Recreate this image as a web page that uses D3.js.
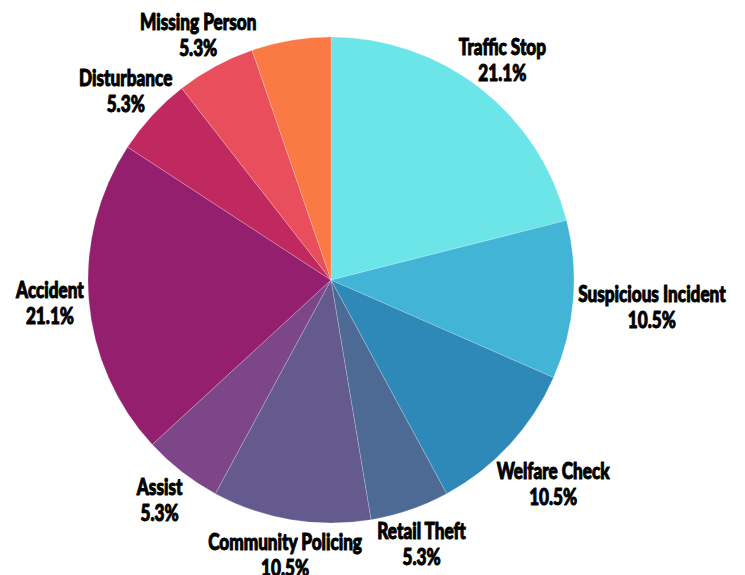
<!DOCTYPE html>
<html>
<head>
<meta charset="utf-8">
<script src="https://cdn.jsdelivr.net/npm/d3@7"></script>
<style>
  html, body { margin: 0; padding: 0; background: #ffffff; }
  svg { display: block; }
  .lbl { font-family: Lato, "Open Sans", "DejaVu Sans Condensed", sans-serif; font-weight: 900;
         fill: #000; stroke: #000; stroke-width: 1px; stroke-linejoin: round; }
</style>
</head>
<body>
<svg id="chart" width="745" height="575"></svg>
<script>
// Incident types and their counts (clockwise from 12 o'clock)
const categories = ["Traffic Stop", "Suspicious Incident", "Welfare Check", "Retail Theft",
  "Community Policing", "Assist", "Accident", "Disturbance", "Missing Person", "Other"];
const counts = [4, 2, 2, 1, 2, 1, 4, 1, 1, 1];
const colors = ["#6be5e8", "#42b5d6", "#2e88b8", "#4c6a93", "#645a8e", "#7d4689",
  "#931f6e", "#bf2960", "#e84e5b", "#fb7945"];
// Slices whose label is drawn
const showLabel = [true, true, true, true, true, true, true, true, true, false];

const cx = 331, cy = 280, R = 243;
const fontSize = 22, lineGap = 26, squeeze = 0.78;

const svg = d3.select("#chart");
const g = svg.append("g").attr("transform", `translate(${cx},${cy})`);

const data = categories.map((c, i) => ({ name: c, value: counts[i], color: colors[i], show: showLabel[i] }));
const total = d3.sum(counts);

const pie = d3.pie().value(d => d.value).sort(null);
const arc = d3.arc().innerRadius(0).outerRadius(R);
const arcs = pie(data);

g.selectAll("path.slice")
  .data(arcs)
  .join("path")
  .attr("class", "slice")
  .attr("d", arc)
  .attr("fill", d => d.data.color)
  .attr("stroke", "rgba(255,255,255,0.35)")
  .attr("stroke-width", 0.6);

const pct = d3.format(".1f");

// Two-line labels in a narrow heavy face, pushed outward along the
// slice bisector until they are clear of the pie
const labels = g.selectAll("g.label")
  .data(arcs.filter(d => d.data.show))
  .join("g")
  .attr("class", "label");

labels.each(function (d) {
  const outer = d3.select(this);
  const inner = outer.append("g");
  const t1 = inner.append("text").attr("class", "lbl").attr("text-anchor", "middle")
    .style("font-size", fontSize + "px").text(d.data.name);
  const t2 = inner.append("text").attr("class", "lbl").attr("text-anchor", "middle")
    .style("font-size", fontSize + "px").text(pct(d.value / total * 100) + "%");
  const w1 = t1.node().getComputedTextLength() * squeeze;
  const w2 = t2.node().getComputedTextLength() * squeeze;
  const a = (d.startAngle + d.endAngle) / 2;
  const ux = Math.sin(a), uy = -Math.cos(a);
  const capH = fontSize * 0.72;
  const gap = 4;
  const clearOf = (x, y) => {
    const boxes = [
      { x0: x - w1 / 2, x1: x + w1 / 2, y0: y - lineGap / 2 - capH / 2, y1: y - lineGap / 2 + capH / 2 },
      { x0: x - w2 / 2, x1: x + w2 / 2, y0: y + lineGap / 2 - capH / 2, y1: y + lineGap / 2 + capH / 2 }
    ];
    return boxes.every(b => {
      const nx = Math.max(b.x0, Math.min(0, b.x1));
      const ny = Math.max(b.y0, Math.min(0, b.y1));
      return Math.hypot(nx, ny) >= R + gap;
    });
  };
  let r = R + 36;
  while (!clearOf(ux * r, uy * r) && r < R + 200) r += 1;
  const x = ux * r, y = uy * r;
  outer.attr("transform", `translate(${x},${y})`);
  inner.attr("transform", `scale(${squeeze},1)`);
  t1.attr("x", 0).attr("y", -lineGap / 2 + capH / 2);
  t2.attr("x", 0).attr("y", lineGap / 2 + capH / 2);
});
</script>
</body>
</html>
